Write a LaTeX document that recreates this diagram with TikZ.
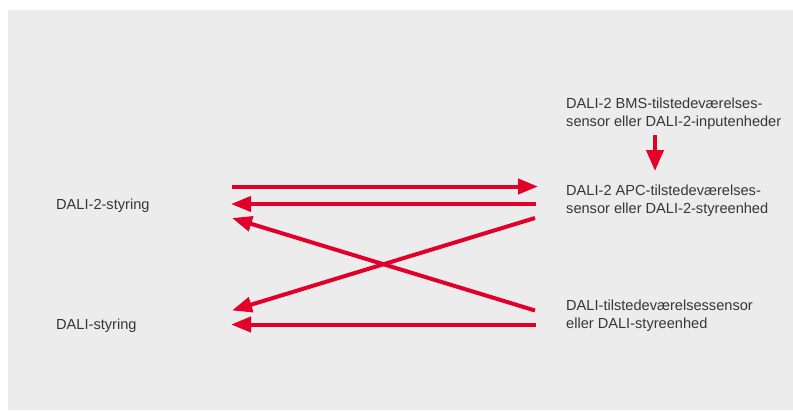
\documentclass[tikz,border=0pt]{standalone}
\usepackage{fontspec}
\setmainfont{Liberation Sans}
\usetikzlibrary{arrows.meta}
\usetikzlibrary{positioning}
\definecolor{bggray}{HTML}{EBECEB}
\definecolor{dalired}{HTML}{E2002B}
\definecolor{txtgray}{HTML}{363636}

\tikzset{
  lbl/.style = {anchor = base west, inner sep = 0pt, align = left, text = txtgray,
                font = \fontsize{14.6}{18}\selectfont},
  arr/.style = {draw = dalired, line width = 4pt,
                -{Triangle[length = 20pt, width = 15pt]}},
  arrdown/.style = {draw = dalired, line width = 4pt,
                -{Triangle[length = 21pt, width = 17pt]}}
}

\begin{document}
\begin{tikzpicture}[x = 1pt, y = -1pt]
\useasboundingbox (0,0) rectangle (793,410);
\fill[bggray] (8,10) rectangle (793,410);

% multi-line labels sit on the baseline of their last line
\node[lbl] (ctrl2) at (56,209) {DALI-2-styring};
\node[lbl] (ctrl1) at (56,329) {DALI-styring};
\node[lbl] (bms)   at (566,126) {DALI-2 BMS-tilstedeværelses-\\sensor eller DALI-2-inputenheder};
\node[lbl] (apc)   at (566,213) {DALI-2 APC-tilstedeværelses-\\sensor eller DALI-2-styreenhed};
\node[lbl] (sens)  at (566,328.5) {DALI-tilstedeværelsessensor\\eller DALI-styreenhed};

% arrow ends
\coordinate (bmsS)   at (655,135);
\coordinate (apcN)   at (655,171);
\coordinate (ctrl2a) at (232,186.5);
\coordinate (apcA)   at (538,186.5);
\coordinate (apcB)   at (536,204);
\coordinate (ctrl2b) at (231,204);
\coordinate (apcC)   at (535,218);
\coordinate (ctrl2c) at (232,218);
\coordinate (sensA)  at (535,310.5);
\coordinate (ctrl1a) at (232,310.5);
\coordinate (sensB)  at (536,324.5);
\coordinate (ctrl1b) at (231,324.5);

\path (bmsS) edge[arrdown] (apcN);

\path (ctrl2a) edge[arr] (apcA)
      (apcB)   edge[arr] (ctrl2b)
      (sensA)  edge[arr] (ctrl2c)
      (apcC)   edge[arr] (ctrl1a)
      (sensB)  edge[arr] (ctrl1b);
\end{tikzpicture}
\end{document}
